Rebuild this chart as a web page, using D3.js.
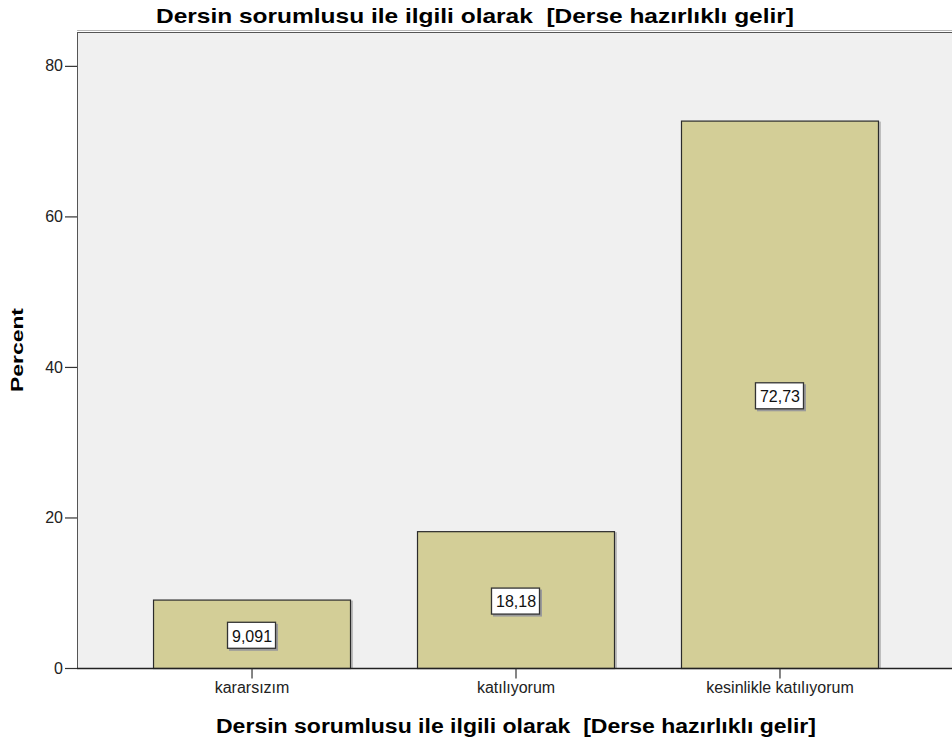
<!DOCTYPE html>
<html>
<head>
<meta charset="utf-8">
<script src="https://cdn.jsdelivr.net/npm/d3@7"></script>
<style>
  body { margin: 0; background: #fff; }
  text { font-family: "Liberation Sans", Arial, sans-serif; white-space: pre; }
</style>
</head>
<body>
<div id="chart"></div>
<script>
// data
let categories = ["kararsızım", "katılıyorum", "kesinlikle katılıyorum"];
let percents = [9.091, 18.18, 72.73];
let percentLabels = ["9,091", "18,18", "72,73"];
let yTicks = [0, 20, 40, 60, 80];
let title = "Dersin sorumlusu ile ilgili olarak  [Derse hazırlıklı gelir]";
let yTitle = "Percent";

let width = 952, height = 749;
let plot = ({ left: 77, top: 32, right: 955, bottom: 668 });

const svg = d3.select("#chart").append("svg")
  .attr("width", width).attr("height", height);

let x = d3.scaleBand().domain(categories)
  .range([plot.left, plot.right])
  .paddingInner(0.25).paddingOuter(0.288);

let y = d3.scaleLinear().domain([0, 84.5]).range([plot.bottom, plot.top]);

// plot background
svg.append("line")
  .attr("x1", plot.left).attr("x2", width)
  .attr("y1", plot.top - 1.5).attr("y2", plot.top - 1.5)
  .attr("stroke", "#b8b8b8").attr("stroke-width", 1);
svg.append("rect")
  .attr("x", plot.left + 0.5).attr("y", plot.top + 0.5)
  .attr("width", width).attr("height", plot.bottom - plot.top)
  .attr("fill", "#f0f0f0").attr("stroke", "#555").attr("stroke-width", 1);

// bars
let rows = categories.map((c, i) => ({ cat: c, value: percents[i], label: percentLabels[i] }));

svg.append("g").selectAll("rect")
  .data(rows).join("rect")
  .attr("x", d => x(d.cat) + 2)
  .attr("y", d => y(d.value) + 1)
  .attr("width", x.bandwidth())
  .attr("height", d => y(0) - y(d.value) - 1)
  .attr("fill", "#bdbdbd");

svg.append("g").selectAll("rect")
  .data(rows).join("rect")
  .attr("x", d => x(d.cat) + 0.5)
  .attr("y", d => y(d.value) + 0.5)
  .attr("width", x.bandwidth() - 1)
  .attr("height", d => y(0) - y(d.value))
  .attr("fill", "#d3ce97")
  .attr("stroke", "#2b2b2b").attr("stroke-width", 1.2);

// value boxes
let lab = svg.append("g").selectAll("g")
  .data(rows).join("g")
  .attr("transform", d => `translate(${x(d.cat) + x.bandwidth() / 2},${(y(d.value) + y(0)) / 2 + 2})`);

lab.append("rect")
  .attr("x", -24.5 + 1.5).attr("y", -13.5 + 1.5)
  .attr("width", 49).attr("height", 27)
  .attr("fill", "#9a9a9a");
lab.append("rect")
  .attr("x", -24.5).attr("y", -13.5)
  .attr("width", 48).attr("height", 26)
  .attr("fill", "#fff").attr("stroke", "#333").attr("stroke-width", 1.3);
lab.append("text")
  .attr("text-anchor", "middle")
  .attr("dy", "0.36em")
  .attr("font-size", 16)
  .attr("fill", "#111")
  .text(d => d.label);

// y axis
const yAxis = d3.axisLeft(y).tickValues(yTicks).tickSize(12).tickPadding(2).tickSizeOuter(0);
svg.append("g")
  .attr("transform", `translate(${plot.left},0)`)
  .call(yAxis)
  .call(g => g.select(".domain").remove())
  .call(g => g.selectAll(".tick line").attr("stroke", "#333").attr("stroke-width", 1.2))
  .call(g => g.selectAll(".tick text")
    .attr("font-size", 16).attr("fill", "#222")
    .attr("font-family", "\"Liberation Sans\", Arial, sans-serif"));

// x axis
const xAxis = d3.axisBottom(x).tickSize(10).tickPadding(3).tickSizeOuter(0);
svg.append("g")
  .attr("transform", `translate(0,${plot.bottom + 0.5})`)
  .call(xAxis)
  .call(g => g.select(".domain").attr("d", `M${plot.left},0H${width}`).attr("stroke", "#222").attr("stroke-width", 1.4))
  .call(g => g.selectAll(".tick line").attr("stroke", "#333").attr("stroke-width", 1.2))
  .call(g => g.selectAll(".tick text")
    .attr("font-size", 16).attr("fill", "#222")
    .attr("font-family", "\"Liberation Sans\", Arial, sans-serif"));

// titles
svg.append("text")
  .attr("x", width / 2 - 1).attr("y", 23)
  .attr("text-anchor", "middle")
  .attr("font-size", 21).attr("font-weight", "bold")
  .attr("textLength", 638).attr("lengthAdjust", "spacingAndGlyphs")
  .text(title);

svg.append("text")
  .attr("x", (plot.left + plot.right) / 2).attr("y", 733)
  .attr("text-anchor", "middle")
  .attr("font-size", 20).attr("font-weight", "bold")
  .attr("textLength", 600).attr("lengthAdjust", "spacingAndGlyphs")
  .text(title);

svg.append("text")
  .attr("transform", `translate(23,${(plot.top + plot.bottom) / 2}) rotate(-90)`)
  .attr("text-anchor", "middle")
  .attr("font-size", 17).attr("font-weight", "bold")
  .attr("textLength", 84).attr("lengthAdjust", "spacingAndGlyphs")
  .text(yTitle);
</script>
</body>
</html>
